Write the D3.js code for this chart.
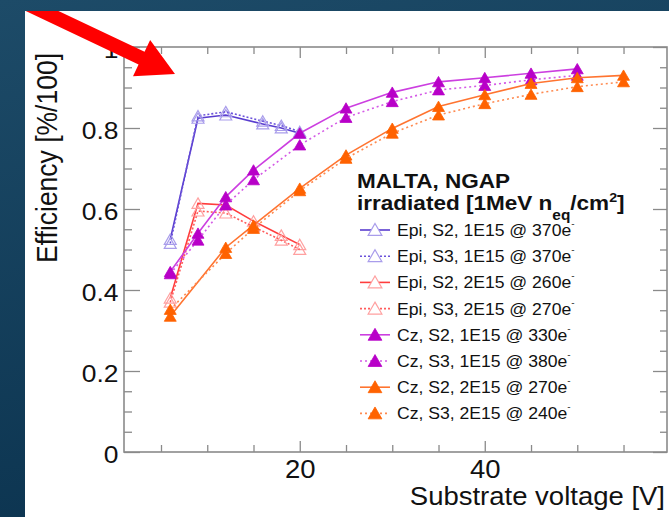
<!DOCTYPE html>
<html><head><meta charset="utf-8">
<script src="https://cdn.jsdelivr.net/npm/d3@7"></script>
<style>html,body{margin:0;padding:0;background:#0f3954;overflow:hidden}</style>
</head><body>
<script>
// ---------------- data ----------------
const epiV1 = [6, 9, 12, 16, 18, 20];
const epiS2_1E15 = [0.525, 0.824, 0.832, 0.81, 0.8, 0.787];
const epiS3_1E15 = [0.515, 0.83, 0.84, 0.817, 0.806, 0.791];
const epiV2 = [6, 9, 12, 15, 18, 20];
const epiS2_2E15 = [0.38, 0.614, 0.61, 0.57, 0.535, 0.512];
const epiS3_2E15 = [0.37, 0.595, 0.59, 0.556, 0.523, 0.5];
const czV1 = [6, 9, 12, 15, 20, 25, 30, 35, 40, 45, 50];
const czS2_1E15 = [0.445, 0.54, 0.63, 0.696, 0.787, 0.849, 0.888, 0.914, 0.924, 0.935, 0.946];
const czS3_1E15 = [0.44, 0.523, 0.61, 0.672, 0.758, 0.826, 0.865, 0.894, 0.905, 0.919, 0.93];
const czV2 = [6, 12, 15, 20, 25, 30, 35, 40, 45, 50, 55];
const czS2_2E15 = [0.335, 0.505, 0.56, 0.651, 0.733, 0.799, 0.853, 0.882, 0.91, 0.924, 0.93];
const czS3_2E15 = [0.352, 0.49, 0.552, 0.645, 0.725, 0.787, 0.832, 0.86, 0.883, 0.902, 0.914];

const legendLabels = [
  "Epi, S2, 1E15 @ 370e", "Epi, S3, 1E15 @ 370e",
  "Epi, S2, 2E15 @ 260e", "Epi, S3, 2E15 @ 270e",
  "Cz, S2, 1E15 @ 330e", "Cz, S3, 1E15 @ 380e",
  "Cz, S2, 2E15 @ 270e", "Cz, S3, 2E15 @ 240e"
];
const yMajorTicks = [0, 0.2, 0.4, 0.6, 0.8, 1];
const yMinorTicks = [0.05, 0.1, 0.15, 0.25, 0.3, 0.35, 0.45, 0.5, 0.55, 0.65, 0.7, 0.75, 0.85, 0.9, 0.95];
const xMajorTicks = [20, 40];
const xMinorTicks = [5, 10, 15, 25, 30, 35, 45, 50, 55];
const xTitle = "Substrate voltage [V]";
const yTitle = "Efficiency [%/100]";

// ---------------- setup ----------------
const W = 669, H = 517;
const FONT = "'Liberation Sans', Arial, Helvetica, sans-serif";
const SX = 1.1; // horizontal stretch of the original picture
const svg = d3.select("body").append("svg").attr("width", W).attr("height", H).style("display", "block");
const defs = svg.append("defs");
const bg = defs.append("linearGradient").attr("id", "bg").attr("x1", 0).attr("y1", 0).attr("x2", 0.3).attr("y2", 1);
bg.append("stop").attr("offset", 0).attr("stop-color", "#1d4b68");
bg.append("stop").attr("offset", 1).attr("stop-color", "#0c3450");
defs.append("clipPath").attr("id", "panelClip").append("rect").attr("x", 25).attr("y", 11).attr("width", W - 25).attr("height", H - 11);

svg.append("rect").attr("width", W).attr("height", H).attr("fill", "url(#bg)");
svg.append("rect").attr("x", 25).attr("y", 11).attr("width", W - 25).attr("height", H - 11).attr("fill", "#fff");

const x = d3.scaleLinear().domain([1, 59.7]).range([124, 667]);
const y = d3.scaleLinear().domain([0, 1]).range([452, 47]);

const AX = "#8a8a8a";
function axisG(axis, tx, ty) {
  const g = svg.append("g").attr("transform", `translate(${tx},${ty})`).call(axis);
  g.select(".domain").remove();
  g.selectAll("line").attr("stroke", AX).attr("stroke-width", 1.3);
  return g;
}
// left
const gl = axisG(d3.axisLeft(y).tickValues(yMajorTicks).tickSize(-16).tickPadding(5).tickFormat(d3.format("~g")), 124, 0);
gl.selectAll("text").attr("font-size", 24).attr("font-family", FONT).attr("fill", "#111").attr("dy", "0.42em")
  .attr("transform", `scale(${SX},1)`);
axisG(d3.axisLeft(y).tickValues(yMinorTicks).tickSize(-8).tickFormat(""), 124, 0);
// right
axisG(d3.axisRight(y).tickValues(yMajorTicks).tickSize(-14).tickFormat(""), 667, 0);
axisG(d3.axisRight(y).tickValues(yMinorTicks).tickSize(-7).tickFormat(""), 667, 0);
// bottom
const gb = axisG(d3.axisBottom(x).tickValues(xMajorTicks).tickSize(-11).tickPadding(8).tickFormat(d3.format("d")), 0, 452);
gb.selectAll("text").attr("font-size", 25).attr("font-family", FONT).attr("fill", "#111")
  .attr("transform", `scale(${SX},1)`);
axisG(d3.axisBottom(x).tickValues(xMinorTicks).tickSize(-7).tickFormat(""), 0, 452);
// top
axisG(d3.axisTop(x).tickValues(xMajorTicks).tickSize(-11).tickFormat(""), 0, 47);
axisG(d3.axisTop(x).tickValues(xMinorTicks).tickSize(-7).tickFormat(""), 0, 47);
// frame
svg.append("rect").attr("x", 124).attr("y", 47).attr("width", 543).attr("height", 405)
  .attr("fill", "none").attr("stroke", AX).attr("stroke-width", 1.6);

// axis titles
svg.append("text").attr("transform", `translate(665,505) scale(${SX},1)`).attr("text-anchor", "end")
  .attr("font-family", FONT).attr("font-size", 25).attr("fill", "#111").text(xTitle);
svg.append("text").attr("transform", `translate(57,158) rotate(-90) scale(1,${SX})`).attr("text-anchor", "middle")
  .attr("font-family", FONT).attr("font-size", 26.5).attr("fill", "#111").text(yTitle);

// ---------------- series ----------------
const series = [
  { v: epiV1, e: epiS2_1E15, line: "#5a3ecf", dash: null, mk: "#a99deb", filled: false },
  { v: epiV1, e: epiS3_1E15, line: "#6b52da", dash: "2,2", mk: "#a99deb", filled: false },
  { v: epiV2, e: epiS2_2E15, line: "#ff3d3d", dash: null, mk: "#ffa0a0", filled: false },
  { v: epiV2, e: epiS3_2E15, line: "#ff5c5c", dash: "2,2", mk: "#ffa0a0", filled: false },
  { v: czV1, e: czS2_1E15, line: "#cc3fe0", dash: null, mk: "#b800c8", filled: true },
  { v: czV1, e: czS3_1E15, line: "#d45ae6", dash: "2,3", mk: "#b800c8", filled: true },
  { v: czV2, e: czS2_2E15, line: "#ff7430", dash: null, mk: "#ff6200", filled: true },
  { v: czV2, e: czS3_2E15, line: "#ff8a50", dash: "2,3", mk: "#ff6200", filled: true }
];
const lineGen = d3.line().x(d => x(d[0])).y(d => y(d[1]));
const tri = d3.symbol(d3.symbolTriangle, 62);
const triL = d3.symbol(d3.symbolTriangle, 82);

series.forEach(s => {
  const pts = s.v.map((v, i) => [v, s.e[i]]);
  const g = svg.append("g");
  g.append("path").attr("d", lineGen(pts)).attr("fill", "none").attr("stroke", s.line)
    .attr("stroke-width", 1.6).attr("stroke-dasharray", s.dash);
  g.selectAll("path.m").data(pts).join("path").attr("class", "m")
    .attr("transform", d => `translate(${x(d[0])},${y(d[1]) + 1.5})`)
    .attr("d", tri)
    .attr("fill", s.filled ? s.mk : "none")
    .attr("stroke", s.mk).attr("stroke-width", s.filled ? 0.8 : 1.2);
});

// ---------------- legend ----------------
const lg = svg.append("g");
lg.append("text").attr("transform", `translate(357,188) scale(${SX},1)`).attr("font-family", FONT)
  .attr("font-size", 20.5).attr("font-weight", "bold").attr("fill", "#111").text("MALTA, NGAP");
const t2 = lg.append("text").attr("transform", `translate(357,210) scale(${SX},1)`).attr("font-family", FONT)
  .attr("font-size", 20.5).attr("font-weight", "bold").attr("fill", "#111");
t2.append("tspan").text("irradiated [1MeV n");
t2.append("tspan").attr("font-size", 14).attr("dy", 10).text("eq");
t2.append("tspan").attr("dy", -10).text("/cm");
t2.append("tspan").attr("font-size", 13).attr("dy", -8).text("2");
t2.append("tspan").attr("dy", 8).text("]");

series.forEach((s, i) => {
  const cy = 230 + i * 26.2;
  lg.append("line").attr("x1", 360).attr("x2", 390).attr("y1", cy).attr("y2", cy)
    .attr("stroke", s.line).attr("stroke-width", 1.6).attr("stroke-dasharray", s.dash);
  lg.append("path").attr("transform", `translate(375,${cy + 1.5})`).attr("d", triL)
    .attr("fill", s.filled ? s.mk : "#fff").attr("stroke", s.mk).attr("stroke-width", s.filled ? 0.8 : 1.2);
  const t = lg.append("text").attr("transform", `translate(397,${cy + 6}) scale(${SX},1)`)
    .attr("font-family", FONT).attr("font-size", 16).attr("fill", "#111");
  t.append("tspan").text(legendLabels[i]);
  t.append("tspan").attr("font-size", 9).attr("dy", -9).text("-");
});

// ---------------- red arrow ----------------
const ang = Math.atan2(64, 135) * 180 / Math.PI, L = Math.hypot(135, 64);
const arrowPts = [[-80, -7], [L - 37, -7], [L - 37, -20], [L, 0], [L - 37, 20], [L - 37, 7], [-80, 7]];
svg.append("g").attr("clip-path", "url(#panelClip)")
  .append("polygon").attr("transform", `translate(40,10) rotate(${ang})`)
  .attr("points", arrowPts.map(p => p.join(",")).join(" ")).attr("fill", "#ff0000");
</script>
</body></html>
